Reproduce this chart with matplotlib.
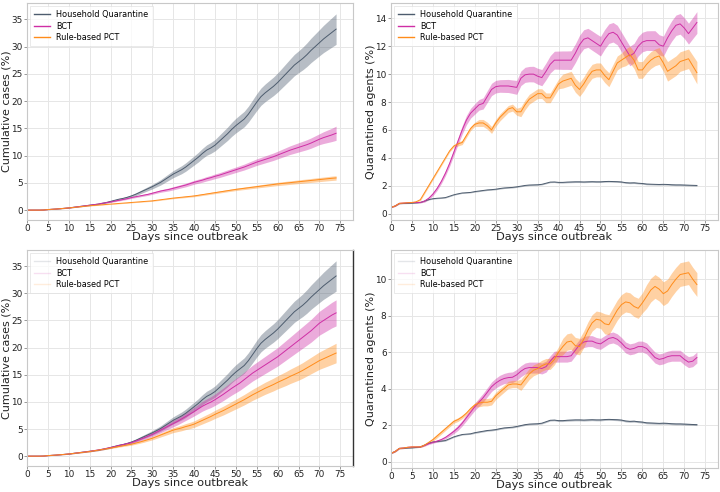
import matplotlib
matplotlib.use("Agg")
import matplotlib.pyplot as plt
import numpy as np

# ---------------- data ----------------
series_names = ["Household Quarantine", "BCT", "Rule-based PCT"]
colors = ["#4d5c6e", "#cf2ea5", "#ff8c1a"]
xticks = [0, 5, 10, 15, 20, 25, 30, 35, 40, 45, 50, 55, 60, 65, 70, 75]

# cumulative cases (%), days 0..74
hq_cases = [0, 0, 0, 0, 0.02, 0.1, 0.15, 0.2, 0.27, 0.33, 0.4, 0.5, 0.6, 0.7, 0.8, 0.9, 1.0, 1.1, 1.25, 1.4,
            1.6, 1.8, 2.0, 2.15, 2.35, 2.6, 2.9, 3.25, 3.6, 3.95, 4.3, 4.7, 5.1, 5.6, 6.1, 6.6, 7.0, 7.4, 7.9, 8.5,
            9.1, 9.7, 10.4, 11.0, 11.4, 11.9, 12.6, 13.3, 14.0, 14.8, 15.5, 16.1, 16.7, 17.6, 18.7, 19.8, 20.8, 21.5, 22.1, 22.7,
            23.4, 24.2, 25.0, 25.8, 26.6, 27.2, 27.8, 28.5, 29.3, 30.0, 30.7, 31.4, 32.0, 32.6, 33.2]
hq_cases_err = [0, 0, 0, 0, 0.01, 0.02, 0.02, 0.03, 0.03, 0.04, 0.05, 0.05, 0.06, 0.07, 0.08, 0.09, 0.1, 0.1, 0.11, 0.12,
                0.13, 0.14, 0.15, 0.17, 0.19, 0.21, 0.25, 0.29, 0.33, 0.37, 0.41, 0.45, 0.5, 0.55, 0.6, 0.65, 0.69, 0.73, 0.77, 0.8,
                0.84, 0.88, 0.92, 0.96, 1.0, 1.04, 1.1, 1.16, 1.22, 1.28, 1.34, 1.38, 1.42, 1.46, 1.5, 1.55, 1.58, 1.62, 1.66, 1.7,
                1.75, 1.8, 1.86, 1.92, 1.96, 2.0, 2.08, 2.16, 2.24, 2.32, 2.4, 2.5, 2.6, 2.7, 2.8]
bct_cases_a = [0, 0, 0, 0, 0.02, 0.1, 0.15, 0.2, 0.27, 0.33, 0.4, 0.5, 0.6, 0.7, 0.8, 0.9, 1.0, 1.1, 1.25, 1.38,
               1.5, 1.65, 1.8, 1.95, 2.1, 2.3, 2.45, 2.6, 2.75, 2.9, 3.1, 3.3, 3.5, 3.65, 3.8, 4.0, 4.2, 4.4, 4.6, 4.85,
               5.1, 5.3, 5.5, 5.75, 5.95, 6.2, 6.4, 6.65, 6.9, 7.15, 7.4, 7.65, 7.9, 8.2, 8.5, 8.8, 9.05, 9.3, 9.55, 9.8,
               10.1, 10.4, 10.7, 11.0, 11.25, 11.5, 11.75, 12.0, 12.3, 12.65, 13.0, 13.3, 13.55, 13.8, 14.1]
bct_cases_a_err = [0, 0, 0, 0, 0.01, 0.02, 0.02, 0.03, 0.03, 0.04, 0.04, 0.05, 0.05, 0.06, 0.06, 0.07, 0.07, 0.08, 0.08, 0.09,
                   0.1, 0.11, 0.12, 0.13, 0.14, 0.15, 0.16, 0.17, 0.18, 0.19, 0.2, 0.21, 0.23, 0.25, 0.27, 0.29, 0.3, 0.31, 0.33, 0.34,
                   0.35, 0.37, 0.38, 0.4, 0.41, 0.43, 0.44, 0.46, 0.47, 0.49, 0.5, 0.52, 0.54, 0.56, 0.58, 0.6, 0.62, 0.64, 0.66, 0.68,
                   0.7, 0.73, 0.76, 0.79, 0.82, 0.85, 0.88, 0.91, 0.94, 0.97, 1.0, 1.08, 1.15, 1.22, 1.3]
pct_cases_a = [0, 0, 0, 0, 0.02, 0.1, 0.15, 0.2, 0.26, 0.33, 0.4, 0.48, 0.56, 0.64, 0.72, 0.8, 0.86, 0.92, 0.98, 1.04,
               1.1, 1.16, 1.22, 1.28, 1.34, 1.4, 1.46, 1.52, 1.58, 1.64, 1.7, 1.8, 1.9, 2.0, 2.1, 2.2, 2.28, 2.36, 2.44, 2.52,
               2.6, 2.72, 2.84, 2.96, 3.08, 3.2, 3.32, 3.44, 3.56, 3.68, 3.8, 3.9, 4.0, 4.1, 4.2, 4.3, 4.4, 4.5, 4.6, 4.7,
               4.8, 4.88, 4.96, 5.04, 5.12, 5.2, 5.28, 5.36, 5.44, 5.52, 5.6, 5.68, 5.76, 5.84, 5.9]
pct_cases_a_err = [0, 0, 0, 0, 0.01, 0.02, 0.02, 0.02, 0.03, 0.03, 0.03, 0.03, 0.04, 0.04, 0.04, 0.04, 0.05, 0.05, 0.05, 0.05,
                   0.05, 0.06, 0.06, 0.06, 0.07, 0.07, 0.07, 0.08, 0.08, 0.08, 0.09, 0.09, 0.1, 0.1, 0.11, 0.11, 0.12, 0.13, 0.14, 0.14,
                   0.15, 0.16, 0.16, 0.17, 0.18, 0.18, 0.19, 0.2, 0.2, 0.21, 0.22, 0.22, 0.23, 0.24, 0.24, 0.25, 0.26, 0.27, 0.28, 0.29,
                   0.3, 0.31, 0.32, 0.32, 0.33, 0.34, 0.35, 0.35, 0.36, 0.37, 0.38, 0.38, 0.39, 0.4, 0.4]
bct_cases_b = [0, 0, 0, 0, 0.02, 0.1, 0.15, 0.2, 0.27, 0.33, 0.4, 0.5, 0.6, 0.7, 0.8, 0.9, 1.02, 1.14, 1.28, 1.44,
               1.6, 1.78, 1.96, 2.14, 2.32, 2.5, 2.78, 3.06, 3.36, 3.68, 4.0, 4.4, 4.8, 5.2, 5.6, 6.0, 6.4, 6.85, 7.3, 7.75,
               8.2, 8.7, 9.2, 9.6, 9.95, 10.4, 10.9, 11.4, 11.95, 12.5, 13.0, 13.5, 14.1, 14.7, 15.3, 15.8, 16.3, 16.8, 17.3, 17.8,
               18.3, 18.9, 19.5, 20.1, 20.7, 21.3, 21.9, 22.5, 23.1, 23.8, 24.5, 25.0, 25.5, 26.0, 26.4]
bct_cases_b_err = [0, 0, 0, 0, 0.01, 0.02, 0.02, 0.03, 0.03, 0.04, 0.05, 0.05, 0.06, 0.07, 0.08, 0.09, 0.1, 0.1, 0.11, 0.12,
                   0.13, 0.14, 0.16, 0.18, 0.2, 0.22, 0.26, 0.3, 0.34, 0.37, 0.4, 0.44, 0.48, 0.52, 0.56, 0.6, 0.64, 0.68, 0.72, 0.76,
                   0.8, 0.85, 0.9, 0.95, 1.0, 1.05, 1.1, 1.15, 1.2, 1.25, 1.3, 1.34, 1.38, 1.42, 1.46, 1.5, 1.54, 1.58, 1.62, 1.66,
                   1.7, 1.75, 1.8, 1.85, 1.9, 1.95, 2.0, 2.05, 2.1, 2.15, 2.2, 2.25, 2.3, 2.35, 2.4]
pct_cases_b = [0, 0, 0, 0, 0.02, 0.1, 0.15, 0.2, 0.27, 0.33, 0.4, 0.49, 0.58, 0.67, 0.76, 0.85, 0.98, 1.1, 1.23, 1.36,
               1.5, 1.64, 1.78, 1.92, 2.06, 2.2, 2.4, 2.6, 2.82, 3.06, 3.3, 3.6, 3.9, 4.2, 4.5, 4.8, 5.0, 5.2, 5.45, 5.65,
               5.9, 6.25, 6.6, 6.95, 7.3, 7.7, 8.05, 8.4, 8.8, 9.2, 9.6, 10.0, 10.4, 10.85, 11.3, 11.7, 12.1, 12.5, 12.85, 13.2,
               13.6, 13.95, 14.3, 14.7, 15.05, 15.4, 15.8, 16.25, 16.7, 17.15, 17.6, 17.95, 18.3, 18.65, 19.0]
pct_cases_b_err = [0, 0, 0, 0, 0.01, 0.02, 0.02, 0.03, 0.03, 0.04, 0.04, 0.05, 0.05, 0.06, 0.06, 0.07, 0.07, 0.08, 0.08, 0.09,
                   0.1, 0.11, 0.12, 0.14, 0.16, 0.18, 0.2, 0.22, 0.25, 0.27, 0.3, 0.33, 0.36, 0.4, 0.43, 0.46, 0.49, 0.52, 0.55, 0.58,
                   0.6, 0.63, 0.66, 0.69, 0.72, 0.75, 0.78, 0.81, 0.84, 0.87, 0.9, 0.93, 0.96, 0.99, 1.02, 1.05, 1.08, 1.11, 1.14, 1.17,
                   1.2, 1.24, 1.28, 1.32, 1.36, 1.4, 1.44, 1.48, 1.52, 1.56, 1.6, 1.65, 1.7, 1.75, 1.8]

# quarantined agents (%), days 0..73
hq_quar = [0.45, 0.55, 0.72, 0.73, 0.74, 0.75, 0.77, 0.8, 0.9, 1.0, 1.07, 1.1, 1.12, 1.15, 1.25, 1.35, 1.42, 1.48, 1.5, 1.52,
           1.58, 1.62, 1.66, 1.7, 1.72, 1.75, 1.8, 1.84, 1.86, 1.88, 1.92, 1.97, 2.02, 2.05, 2.06, 2.07, 2.1, 2.18, 2.26, 2.27,
           2.24, 2.24, 2.26, 2.27, 2.28, 2.28, 2.27, 2.28, 2.29, 2.28, 2.28, 2.3, 2.31, 2.3, 2.29, 2.27, 2.22, 2.2, 2.21, 2.18,
           2.16, 2.12, 2.11, 2.1, 2.09, 2.1, 2.09, 2.07, 2.06, 2.06, 2.05, 2.04, 2.03, 2.02]
hq_quar_err = [0.02, 0.02, 0.02, 0.02, 0.02, 0.02, 0.02, 0.02, 0.02, 0.02, 0.03, 0.03, 0.03, 0.03, 0.03, 0.03, 0.03, 0.03, 0.03, 0.03,
               0.04, 0.04, 0.04, 0.04, 0.04, 0.04, 0.04, 0.04, 0.04, 0.04, 0.04, 0.04, 0.04, 0.04, 0.04, 0.04, 0.04, 0.04, 0.04, 0.04,
               0.05, 0.05, 0.05, 0.05, 0.05, 0.05, 0.05, 0.05, 0.05, 0.05, 0.05, 0.05, 0.05, 0.05, 0.05, 0.05, 0.05, 0.05, 0.05, 0.05,
               0.05, 0.05, 0.05, 0.05, 0.05, 0.05, 0.05, 0.05, 0.05, 0.05, 0.05, 0.05, 0.05, 0.05]
bct_quar_a = [0.45, 0.55, 0.74, 0.76, 0.78, 0.8, 0.8, 0.8, 0.9, 1.1, 1.4, 1.8, 2.3, 2.9, 3.6, 4.4, 5.2, 6.0, 6.7, 7.2,
              7.5, 7.8, 7.9, 8.4, 8.9, 9.1, 9.15, 9.15, 9.15, 9.1, 9.05, 9.7, 9.95, 10.0, 10.0, 9.85, 9.75, 10.2, 10.7, 11.0,
              11.0, 11.0, 11.0, 11.0, 11.5, 12.1, 12.5, 12.6, 12.4, 12.2, 12.0, 12.5, 12.9, 13.0, 12.8, 12.3, 11.8, 11.3, 11.5, 12.0,
              12.3, 12.4, 12.4, 12.4, 12.1, 12.0, 12.6, 13.1, 13.5, 13.6, 13.3, 12.9, 13.3, 13.7]
bct_quar_a_err = [0.03, 0.03, 0.03, 0.03, 0.03, 0.03, 0.03, 0.03, 0.08, 0.1, 0.12, 0.14, 0.16, 0.18, 0.2, 0.22, 0.25, 0.3, 0.33, 0.35,
                  0.37, 0.38, 0.4, 0.42, 0.44, 0.45, 0.45, 0.46, 0.47, 0.48, 0.5, 0.52, 0.54, 0.55, 0.56, 0.57, 0.58, 0.6, 0.62, 0.64,
                  0.65, 0.66, 0.66, 0.67, 0.67, 0.68, 0.68, 0.68, 0.69, 0.69, 0.7, 0.7, 0.7, 0.7, 0.7, 0.7, 0.7, 0.7, 0.7, 0.7,
                  0.7, 0.7, 0.71, 0.71, 0.72, 0.72, 0.72, 0.73, 0.73, 0.74, 0.74, 0.75, 0.76, 0.78]
pct_quar_a = [0.45, 0.55, 0.74, 0.76, 0.78, 0.8, 0.85, 1.0, 1.5, 2.0, 2.5, 3.0, 3.5, 4.0, 4.5, 4.85, 5.0, 5.1, 5.6, 6.1,
              6.4, 6.5, 6.5, 6.3, 6.0, 6.5, 6.9, 7.2, 7.5, 7.6, 7.3, 7.3, 7.8, 8.2, 8.4, 8.6, 8.6, 8.3, 8.3, 8.8,
              9.3, 9.5, 9.6, 9.7, 9.2, 8.9, 9.3, 9.8, 10.2, 10.3, 10.3, 9.9, 9.6, 10.2, 10.8, 11.0, 11.2, 11.4, 11.0, 10.3,
              10.3, 10.7, 11.0, 11.2, 11.3, 10.8, 10.2, 10.4, 10.6, 10.9, 11.0, 11.1, 10.6, 10.1]
pct_quar_a_err = [0.03, 0.03, 0.03, 0.03, 0.03, 0.03, 0.03, 0.08, 0.08, 0.08, 0.08, 0.08, 0.08, 0.08, 0.08, 0.08, 0.15, 0.15, 0.15, 0.15,
                  0.15, 0.25, 0.25, 0.25, 0.25, 0.25, 0.25, 0.25, 0.25, 0.25, 0.25, 0.35, 0.35, 0.35, 0.35, 0.35, 0.35, 0.35, 0.35, 0.35,
                  0.35, 0.5, 0.5, 0.5, 0.5, 0.5, 0.5, 0.5, 0.5, 0.5, 0.5, 0.5, 0.5, 0.5, 0.5, 0.5, 0.6, 0.6, 0.6, 0.6,
                  0.6, 0.6, 0.6, 0.6, 0.6, 0.6, 0.7, 0.7, 0.7, 0.7, 0.7, 0.7, 0.75, 0.8]
bct_quar_b = [0.45, 0.55, 0.72, 0.74, 0.78, 0.8, 0.8, 0.8, 0.88, 0.98, 1.05, 1.12, 1.2, 1.32, 1.48, 1.65, 1.85, 2.1, 2.4, 2.7,
              3.0, 3.25, 3.5, 3.8, 4.1, 4.3, 4.45, 4.55, 4.6, 4.62, 4.75, 4.95, 5.1, 5.15, 5.15, 5.15, 5.1, 5.2, 5.5, 5.75,
              5.75, 5.75, 5.75, 5.8, 6.1, 6.4, 6.55, 6.6, 6.6, 6.5, 6.45, 6.6, 6.75, 6.8, 6.7, 6.5, 6.25, 6.15, 6.2, 6.3,
              6.3, 6.2, 5.95, 5.7, 5.6, 5.65, 5.75, 5.8, 5.8, 5.8, 5.6, 5.45, 5.5, 5.7]
bct_quar_b_err = [0.03, 0.03, 0.03, 0.03, 0.03, 0.03, 0.03, 0.03, 0.04, 0.05, 0.05, 0.06, 0.07, 0.08, 0.1, 0.12, 0.14, 0.15, 0.17, 0.18,
                  0.2, 0.22, 0.24, 0.25, 0.26, 0.27, 0.28, 0.28, 0.29, 0.29, 0.3, 0.3, 0.3, 0.3, 0.3, 0.3, 0.3, 0.3, 0.3, 0.3,
                  0.3, 0.3, 0.3, 0.3, 0.3, 0.3, 0.3, 0.3, 0.3, 0.3, 0.3, 0.3, 0.3, 0.3, 0.3, 0.3, 0.3, 0.3, 0.3, 0.3,
                  0.3, 0.3, 0.3, 0.3, 0.3, 0.3, 0.3, 0.3, 0.3, 0.3, 0.3, 0.3, 0.3, 0.3]
pct_quar_b = [0.45, 0.55, 0.72, 0.74, 0.78, 0.8, 0.8, 0.8, 0.9, 1.05, 1.2, 1.4, 1.6, 1.8, 2.0, 2.2, 2.3, 2.45, 2.65, 2.9,
              3.1, 3.2, 3.25, 3.25, 3.3, 3.6, 3.8, 4.0, 4.2, 4.25, 4.25, 4.2, 4.5, 4.8, 5.0, 5.1, 5.25, 5.35, 5.35, 5.6,
              6.0, 6.3, 6.55, 6.6, 6.35, 6.3, 6.7, 7.2, 7.6, 7.8, 7.75, 7.55, 7.5, 7.9, 8.3, 8.6, 8.75, 8.7, 8.5, 8.4,
              8.7, 9.05, 9.4, 9.6, 9.45, 9.2, 9.35, 9.7, 10.0, 10.25, 10.3, 10.35, 10.0, 9.7]
pct_quar_b_err = [0.03, 0.03, 0.03, 0.03, 0.03, 0.03, 0.03, 0.03, 0.05, 0.05, 0.1, 0.1, 0.1, 0.1, 0.1, 0.1, 0.1, 0.1, 0.1, 0.1,
                  0.1, 0.2, 0.2, 0.2, 0.2, 0.2, 0.2, 0.2, 0.2, 0.2, 0.2, 0.3, 0.3, 0.3, 0.3, 0.3, 0.3, 0.3, 0.3, 0.3,
                  0.3, 0.45, 0.45, 0.45, 0.45, 0.45, 0.45, 0.45, 0.45, 0.45, 0.45, 0.55, 0.55, 0.55, 0.55, 0.55, 0.55, 0.55, 0.55, 0.55,
                  0.55, 0.65, 0.65, 0.65, 0.65, 0.65, 0.65, 0.65, 0.65, 0.65, 0.65, 0.65, 0.65, 0.65]

# ---------------- plotting ----------------
plt.rcParams['font.family'] = ['DejaVu Sans']
fig = plt.figure(figsize=(7.2, 4.92), dpi=100)

panels = [
    dict(pos=[0.0375, 0.553, 0.4525, 0.441], series=[(hq_cases, hq_cases_err), (bct_cases_a, bct_cases_a_err), (pct_cases_a, pct_cases_a_err)],
         ylabel="Cumulative cases (%)", ylim=(-1.8, 38), yticks=list(range(0, 36, 5)), faint=False, dark_right=False),
    dict(pos=[0.543, 0.553, 0.454, 0.441], series=[(hq_quar, hq_quar_err), (bct_quar_a, bct_quar_a_err), (pct_quar_a, pct_quar_a_err)],
         ylabel="Quarantined agents (%)", ylim=(-0.45, 15.1), yticks=list(range(0, 15, 2)), faint=False, dark_right=False),
    dict(pos=[0.0375, 0.053, 0.4525, 0.439], series=[(hq_cases, hq_cases_err), (bct_cases_b, bct_cases_b_err), (pct_cases_b, pct_cases_b_err)],
         ylabel="Cumulative cases (%)", ylim=(-1.8, 38), yticks=list(range(0, 36, 5)), faint=True, dark_right=True),
    dict(pos=[0.543, 0.049, 0.454, 0.443], series=[(hq_quar, hq_quar_err), (bct_quar_b, bct_quar_b_err), (pct_quar_b, pct_quar_b_err)],
         ylabel="Quarantined agents (%)", ylim=(-0.35, 11.6), yticks=list(range(0, 11, 2)), faint=True, dark_right=False),
]

for p in panels:
    ax = fig.add_axes(p["pos"])
    ax.set_facecolor("white")
    for (vals, errs), name, c in zip(p["series"], series_names, colors):
        v = np.array(vals, dtype=float)
        e = np.array(errs, dtype=float)
        days = np.arange(len(v))
        ax.fill_between(days, v - e, v + e, color=c, alpha=0.4, linewidth=0)
        ax.plot(days, v, color=c, linewidth=0.7, label=name)
    ax.set_xlim(0, 78)
    ax.set_ylim(*p["ylim"])
    ax.set_xticks(xticks)
    ax.set_yticks(p["yticks"])
    ax.grid(True, color="#e6e6e6", linewidth=0.7)
    ax.set_axisbelow(True)
    ax.tick_params(labelsize=6.4, length=2, width=0.6, color="#888888", pad=1.2, labelcolor="#222222")
    for s in ax.spines.values():
        s.set_color("#c8c8c8")
        s.set_linewidth(0.8)
    if p["dark_right"]:
        ax.spines["right"].set_color("#333333")
        ax.spines["right"].set_linewidth(1.0)
    ax.set_xlabel("Days since outbreak", fontsize=8.2, color="#222222")
    ax.set_ylabel(p["ylabel"], fontsize=8.0, color="#222222")
    w_px = p["pos"][2] * 720
    h_px = p["pos"][3] * 492
    ax.yaxis.set_label_coords(-20.0 / w_px, 0.5)
    ax.xaxis.set_label_coords(0.5, -17.5 / h_px)
    ax.xaxis.label.set_va("center")
    ax.yaxis.label.set_va("center")
    leg = ax.legend(loc="upper left", fontsize=5.9, frameon=True, fancybox=False,
                    borderpad=0.5, handlelength=1.9, labelspacing=0.3, borderaxespad=0.4)
    leg.get_frame().set_edgecolor("#e0e0e0")
    leg.get_frame().set_linewidth(0.6)
    for h in leg.get_lines():
        h.set_linewidth(1.0)
        if p["faint"]:
            h.set_alpha(0.15)

fig.savefig("out.png", dpi=100)
